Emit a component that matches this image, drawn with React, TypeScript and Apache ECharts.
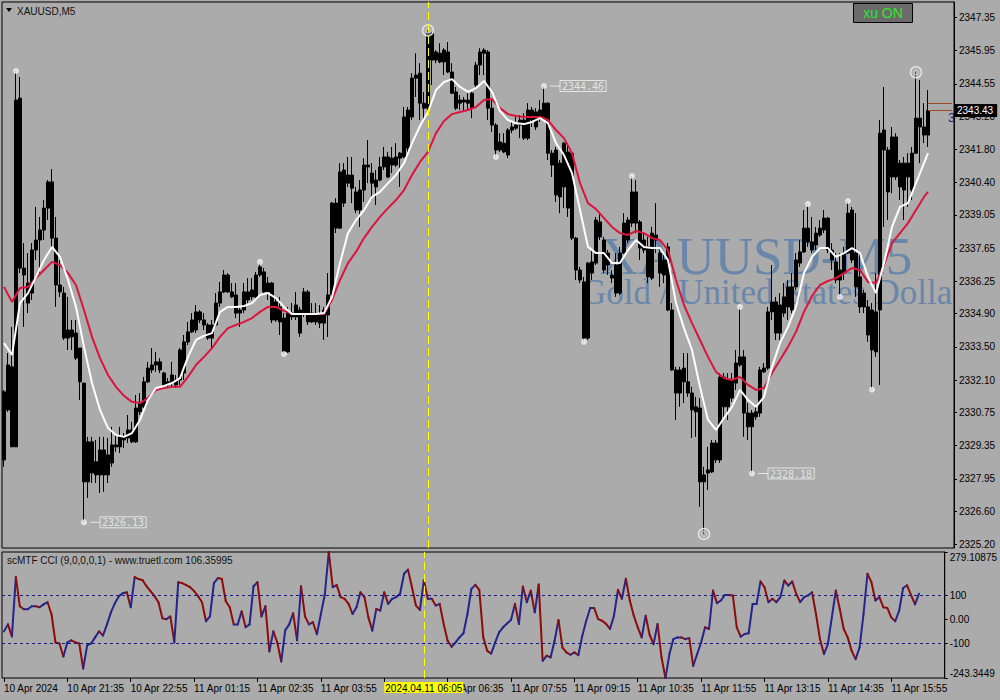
import React, { useEffect, useRef } from "react";
import * as echarts from "echarts";

// ---------- data ----------
const timeLabels = ["10 Apr 2024", "10 Apr 21:35", "10 Apr 22:55", "11 Apr 01:15", "11 Apr 02:35", "11 Apr 03:55", "11 Apr 05:15", "11 Apr 06:35", "11 Apr 07:55", "11 Apr 09:15", "11 Apr 10:35", "11 Apr 11:55", "11 Apr 13:15", "11 Apr 14:35", "11 Apr 15:55"];
const barsPerLabel = 16;
const slotCount = 238; // bars + right shift

const opens = [2328.75,2330.85,2332.66,2329.30,2343.95,2336.81,2336.18,2335.76,2337.57,2337.99,
2338.41,2339.33,2340.43,2338.07,2336.10,2335.76,2333.87,2334.21,2334.08,2333.45,
2331.98,2327.83,2329.51,2328.67,2328.12,2329.17,2328.12,2328.62,2329.38,2329.30,
2329.72,2329.67,2330.01,2329.51,2330.77,2330.98,2332.03,2332.53,2332.74,2332.87,
2332.40,2331.90,2331.98,2332.11,2332.11,2332.40,2333.71,2334.13,2334.21,2334.97,
2334.63,2334.42,2333.87,2334.42,2335.34,2335.81,2336.52,2335.81,2335.68,2334.92,
2335.05,2335.81,2335.60,2335.60,2336.52,2336.65,2335.81,2336.18,2334.63,2335.18,
2334.71,2333.29,2334.92,2334.76,2335.05,2334.92,2335.81,2334.55,2334.84,2334.50,
2334.50,2334.84,2335.68,2339.54,2338.49,2340.93,2340.38,2340.72,2340.01,2339.25,
2340.09,2341.14,2340.80,2340.51,2340.51,2341.06,2341.48,2341.14,2341.48,2341.43,
2341.48,2343.45,2343.16,2344.79,2345.00,2343.74,2343.53,2346.68,2345.55,2345.84,
2345.47,2345.89,2345.05,2344.21,2343.74,2343.87,2343.74,2343.53,2344.50,2345.34,
2345.84,2345.89,2343.53,2342.82,2341.77,2342.06,2341.56,2342.61,2342.69,2342.82,
2343.03,2342.27,2343.45,2342.74,2343.11,2343.03,2343.74,2341.64,2341.77,2339.80,
2342.06,2339.33,2341.64,2338.07,2336.73,2336.23,2333.87,2336.60,2337.02,2338.75,
2337.99,2336.94,2336.52,2335.76,2335.76,2337.44,2337.99,2338.70,2340.01,2338.75,
2337.99,2337.70,2336.39,2338.20,2337.44,2336.52,2337.70,2335.05,2332.53,2331.56,
2332.61,2332.03,2331.56,2330.77,2330.93,2327.83,2328.20,2328.25,2329.46,2328.75,
2332.23,2330.98,2332.11,2331.98,2332.74,2333.08,2330.72,2330.14,2330.77,2330.72,
2332.45,2332.61,2334.97,2335.39,2334.08,2334.92,2335.18,2336.02,2336.02,2337.02,
2337.49,2338.49,2337.91,2337.78,2338.20,2338.41,2338.91,2337.57,2337.07,2336.31,
2336.60,2337.44,2339.25,2337.44,2336.44,2335.18,2335.18,2335.05,2333.29,2335.05,
2341.77,2341.77,2340.64,2342.32,2341.22,2340.09,2341.22,2340.09,2341.64,2343.11,
2342.74,2342.40];

const closes = [2331.61,2332.74,2329.30,2343.87,2336.81,2336.52,2335.34,2337.57,2337.99,2338.41,
2339.33,2340.43,2338.07,2336.10,2335.81,2333.87,2334.21,2333.92,2333.03,2332.03,
2327.83,2329.51,2328.20,2328.12,2329.17,2328.12,2328.96,2329.38,2329.30,2329.72,
2329.59,2330.01,2329.51,2330.93,2331.14,2332.03,2332.61,2332.74,2332.87,2332.53,
2331.90,2332.03,2332.32,2331.90,2333.37,2333.71,2334.13,2334.63,2334.97,2334.63,
2334.42,2333.87,2334.42,2335.34,2335.81,2336.52,2335.81,2335.60,2334.92,2335.05,
2335.81,2335.47,2335.89,2336.52,2336.86,2335.81,2336.18,2334.63,2335.39,2334.55,
2333.29,2334.92,2334.76,2335.26,2334.08,2335.81,2334.55,2334.92,2334.55,2334.84,
2335.05,2335.68,2339.54,2338.49,2340.85,2339.54,2340.72,2340.17,2339.25,2340.09,
2341.14,2341.06,2340.38,2340.22,2341.06,2341.48,2340.64,2341.43,2341.14,2341.64,
2343.16,2341.85,2344.79,2344.92,2343.74,2343.53,2346.68,2345.55,2345.89,2345.47,
2345.97,2345.05,2344.16,2343.53,2343.87,2343.79,2343.87,2344.16,2345.34,2345.89,
2345.97,2343.53,2342.82,2341.77,2342.11,2341.69,2342.61,2342.74,2342.82,2343.03,
2342.27,2343.45,2343.03,2343.37,2343.45,2343.74,2341.64,2341.14,2339.88,2341.22,
2340.22,2341.69,2338.07,2336.73,2336.31,2333.87,2337.02,2337.07,2338.83,2338.12,
2336.73,2337.44,2336.39,2336.94,2337.44,2338.70,2338.83,2340.01,2338.70,2337.65,
2337.57,2336.44,2338.28,2337.99,2336.60,2337.15,2335.05,2332.53,2331.56,2332.53,
2332.03,2331.56,2330.85,2330.98,2327.83,2328.12,2328.33,2329.46,2328.75,2332.23,
2330.98,2332.11,2331.35,2332.82,2333.08,2330.72,2330.14,2330.72,2330.56,2332.53,
2332.61,2334.97,2335.39,2334.08,2335.26,2335.60,2336.02,2335.05,2337.15,2337.49,
2338.49,2337.91,2337.57,2338.28,2338.49,2338.91,2337.57,2337.15,2336.31,2336.73,
2337.44,2339.12,2337.15,2336.02,2335.18,2335.76,2334.00,2333.37,2334.97,2342.48,
2342.61,2340.01,2342.32,2340.64,2340.22,2341.22,2340.64,2341.64,2343.11,2342.74,
2342.40,2343.43];

const lows = [2328.46,2330.77,2329.30,2329.30,2336.60,2334.34,2334.92,2335.47,2337.15,2336.60,
2337.99,2338.83,2337.70,2335.18,2335.60,2333.79,2333.37,2333.37,2332.95,2331.27,
2326.13,2327.15,2327.78,2327.78,2327.36,2327.41,2327.78,2328.46,2329.09,2329.04,
2329.25,2329.46,2329.46,2329.46,2330.64,2330.93,2331.98,2332.40,2332.45,2332.40,
2331.82,2331.77,2331.82,2331.77,2331.90,2332.11,2333.58,2334.08,2334.08,2334.50,
2334.21,2333.79,2333.45,2334.34,2335.18,2335.76,2335.76,2335.55,2334.71,2334.34,
2334.92,2335.34,2335.47,2335.55,2336.44,2335.76,2335.47,2334.50,2334.55,2334.00,
2333.20,2333.25,2334.63,2334.63,2333.92,2334.76,2334.42,2334.50,2334.42,2334.29,
2333.79,2333.92,2335.60,2338.28,2338.45,2339.38,2340.22,2339.54,2339.12,2338.54,
2339.59,2340.38,2339.67,2339.46,2340.45,2340.93,2340.59,2340.80,2341.06,2340.22,
2341.43,2341.64,2343.03,2344.00,2343.03,2343.03,2343.45,2344.50,2345.42,2345.42,
2344.92,2345.00,2344.12,2343.45,2343.45,2343.37,2343.45,2343.11,2344.42,2344.92,
2344.92,2343.03,2342.53,2341.48,2341.69,2341.64,2341.43,2342.48,2342.61,2342.27,
2342.19,2342.19,2342.74,2342.61,2342.95,2343.00,2341.35,2340.64,2339.59,2339.12,
2339.33,2338.96,2337.99,2336.31,2336.18,2333.71,2333.79,2336.31,2336.94,2337.99,
2336.60,2336.52,2336.18,2335.60,2335.68,2337.40,2337.86,2338.54,2338.28,2337.15,
2337.44,2336.18,2336.31,2337.44,2336.02,2336.18,2335.00,2332.50,2330.43,2330.98,
2331.14,2331.40,2329.67,2329.72,2326.78,2325.64,2327.49,2328.20,2328.62,2328.62,
2330.56,2330.43,2331.19,2331.69,2332.66,2329.72,2329.59,2328.18,2330.43,2330.56,
2332.40,2332.53,2334.63,2333.79,2333.79,2334.76,2334.63,2334.92,2335.89,2336.86,
2337.44,2337.70,2337.44,2337.57,2338.12,2338.28,2337.44,2336.73,2336.18,2335.60,
2336.31,2337.40,2337.02,2335.60,2334.92,2334.92,2333.71,2331.70,2333.08,2331.90,
2338.54,2338.83,2339.96,2340.51,2339.67,2338.83,2339.38,2339.67,2341.60,2341.22,
2342.06,2341.90];

const highs = [2331.69,2333.24,2334.34,2345.09,2344.84,2337.86,2337.44,2337.86,2339.38,2338.96,
2339.67,2340.51,2340.97,2338.96,2337.15,2336.02,2335.60,2334.63,2334.63,2333.45,
2331.98,2329.72,2329.72,2329.59,2329.72,2329.72,2329.67,2330.14,2329.80,2330.14,
2329.88,2330.64,2330.35,2331.48,2331.56,2332.24,2332.87,2333.45,2333.29,2333.03,
2332.45,2332.19,2332.87,2332.32,2333.45,2334.00,2334.55,2334.92,2335.26,2335.05,
2334.92,2334.50,2334.63,2335.76,2336.23,2336.73,2336.60,2336.18,2336.18,2335.13,
2336.18,2336.39,2336.39,2336.65,2337.07,2336.81,2336.44,2336.23,2335.55,2335.60,
2334.92,2335.18,2335.34,2335.81,2335.18,2335.97,2335.89,2335.34,2335.34,2335.26,
2335.18,2336.60,2339.59,2339.75,2341.22,2341.22,2341.48,2341.48,2340.22,2340.51,
2341.43,2342.19,2341.22,2340.93,2341.48,2341.90,2341.69,2341.90,2342.06,2341.69,
2343.58,2343.58,2345.00,2345.84,2345.42,2344.21,2346.80,2346.73,2345.97,2346.26,
2346.05,2346.31,2345.42,2344.42,2344.08,2344.00,2344.16,2344.21,2345.47,2346.05,
2346.05,2345.97,2343.87,2342.90,2342.48,2342.48,2342.69,2342.95,2343.16,2343.24,
2343.32,2343.74,2343.58,2343.53,2343.87,2344.46,2343.78,2341.77,2341.90,2341.35,
2342.11,2342.06,2341.69,2338.12,2336.86,2336.44,2337.07,2337.57,2338.96,2339.17,
2338.12,2337.57,2336.73,2337.44,2337.70,2339.12,2338.96,2340.68,2340.51,2338.83,
2338.28,2338.12,2338.54,2339.54,2337.70,2337.44,2337.86,2335.34,2332.66,2332.66,
2333.24,2333.24,2331.82,2331.40,2331.35,2328.46,2329.30,2329.59,2329.59,2332.40,
2332.40,2332.40,2332.40,2333.37,2335.18,2333.37,2331.14,2330.85,2330.98,2332.66,
2332.82,2335.18,2336.94,2335.60,2335.76,2336.18,2336.31,2336.60,2337.44,2337.99,
2339.25,2339.50,2338.96,2338.54,2338.83,2339.25,2338.96,2337.86,2337.44,2337.44,
2337.70,2339.63,2339.38,2339.12,2337.44,2335.89,2335.47,2335.34,2336.60,2343.03,
2344.42,2341.90,2342.74,2342.48,2341.35,2341.48,2341.64,2341.90,2345.04,2344.71,
2343.74,2344.29];

const fastMA = [[0,2333.66],[2,2333.16],[4,2335.34],[6,2335.76],[8,2336.44],[10,2337.15],[12,2337.70],[14,2337.28],[16,2336.31],[18,2335.18],[20,2333.50],[22,2331.98],[24,2330.85],[26,2330.09],[28,2329.80],[30,2329.72],[32,2329.88],[34,2330.43],[36,2331.27],[38,2331.77],[40,2331.86],[42,2331.98],[44,2332.19],[46,2333.08],[48,2333.79],[50,2333.96],[52,2334.08],[54,2334.97],[56,2335.18],[58,2335.18],[60,2335.22],[62,2335.34],[64,2335.68],[66,2335.76],[68,2335.55],[70,2335.18],[72,2334.88],[74,2334.88],[76,2334.88],[78,2334.88],[80,2334.92],[82,2335.60],[84,2337.02],[86,2338.28],[88,2338.83],[90,2339.25],[92,2339.80],[94,2340.01],[96,2340.38],[98,2340.72],[100,2341.22],[102,2342.06],[104,2342.78],[106,2343.37],[108,2344.29],[110,2344.63],[112,2344.75],[114,2344.42],[116,2344.21],[118,2344.37],[120,2344.67],[122,2344.21],[124,2343.41],[126,2343.03],[128,2342.90],[130,2342.86],[132,2342.95],[134,2343.11],[136,2342.90],[138,2342.06],[140,2341.56],[142,2340.80],[144,2339.25],[146,2337.70],[148,2337.44],[150,2337.44],[152,2337.02],[154,2337.02],[156,2337.57],[158,2337.99],[160,2337.70],[162,2337.65],[164,2337.65],[166,2337.15],[168,2335.34],[170,2334.29],[172,2333.37],[174,2331.82],[176,2330.43],[178,2330.01],[180,2330.51],[182,2330.98],[184,2331.69],[186,2331.27],[188,2330.98],[190,2331.40],[192,2332.66],[194,2333.66],[196,2334.34],[198,2335.18],[200,2336.60],[202,2337.28],[204,2337.65],[206,2337.65],[208,2337.28],[210,2337.44],[212,2337.65],[214,2337.44],[216,2336.44],[218,2335.76],[220,2337.02],[222,2338.54],[224,2339.38],[226,2339.54],[228,2340.38],[230,2341.22],[231,2341.64]];

const slowMA = [[0,2336.02],[2,2335.39],[4,2335.97],[6,2336.02],[8,2336.39],[10,2336.73],[12,2337.07],[14,2336.94],[16,2336.60],[18,2336.10],[20,2335.05],[22,2333.92],[24,2333.03],[26,2332.32],[28,2331.82],[30,2331.44],[32,2331.19],[34,2331.14],[36,2331.35],[38,2331.69],[40,2331.77],[42,2331.82],[44,2331.82],[46,2332.24],[48,2332.74],[50,2333.08],[52,2333.45],[54,2333.92],[56,2334.29],[58,2334.42],[60,2334.55],[62,2334.71],[64,2334.97],[66,2335.18],[68,2335.18],[70,2335.01],[72,2334.88],[74,2334.88],[76,2334.88],[78,2334.88],[80,2334.88],[82,2335.47],[84,2336.31],[86,2337.02],[88,2337.49],[90,2338.07],[92,2338.54],[94,2338.96],[96,2339.33],[98,2339.67],[100,2340.09],[102,2340.72],[104,2341.27],[106,2341.69],[108,2342.48],[110,2342.99],[112,2343.28],[114,2343.37],[116,2343.45],[118,2343.58],[120,2343.87],[122,2343.91],[124,2343.53],[126,2343.28],[128,2343.20],[130,2343.16],[132,2343.16],[134,2343.16],[136,2343.03],[138,2342.61],[140,2342.27],[142,2341.64],[144,2340.38],[146,2339.54],[148,2339.29],[150,2338.91],[152,2338.54],[154,2338.28],[156,2338.20],[158,2338.37],[160,2338.28],[162,2338.07],[164,2337.99],[166,2337.57],[168,2336.31],[170,2335.26],[172,2334.50],[174,2333.79],[176,2333.08],[178,2332.45],[180,2332.19],[182,2332.11],[184,2332.24],[186,2331.90],[188,2331.69],[190,2331.77],[192,2332.40],[194,2332.95],[196,2333.50],[198,2334.13],[200,2334.97],[202,2335.64],[204,2336.10],[206,2336.27],[208,2336.39],[210,2336.60],[212,2336.81],[214,2336.73],[216,2336.23],[218,2336.18],[220,2336.94],[222,2337.86],[224,2338.28],[226,2338.70],[228,2339.25],[230,2339.80],[231,2340.01]];

const cci = [-50,-21,-71,175,54,42,42,54,54,50,
62,71,21,-96,-100,-154,-96,-87,-96,-100,
-204,-108,-100,-75,-50,-67,-21,29,67,96,
108,112,50,175,167,162,137,117,96,71,
4,0,12,-96,154,150,142,133,117,96,
71,-8,12,150,171,167,75,50,-21,-21,
33,-33,-21,137,154,12,54,-133,-50,-96,
-175,-46,-21,25,-87,137,12,-21,-12,-62,
21,104,279.11,133,142,92,85,64,22,50,
112,92,8,-47,43,36,112,64,85,92,
106,189,206,133,57,39,161,85,85,57,
64,-19,-89,-114,-96,-75,-58,22,126,143,
122,-75,-131,-142,-96,-54,-33,-17,-3,64,
-19,136,71,119,29,144,-172,-151,-158,-89,
-3,-117,-137,-147,-137,-149,-68,-6,47,47,
1,-6,-19,-40,15,122,85,168,78,15,
-33,-75,15,-64,-103,-19,-158,-243.34,-144,-82,
-75,-75,-82,-78,-193,-144,-96,-33,-40,119,
67,78,101,101,99,-33,-72,-61,-58,64,
64,157,133,71,85,71,92,161,140,157,
106,71,92,99,112,22,-82,-144,-103,8,
119,43,-40,-75,-131,-165,-117,22,189,154,
78,92,50,47,8,-8,36,130,141,100,
62,106.36];

const priceTicks = [2325.20, 2326.60, 2327.95, 2329.35, 2330.75, 2332.10, 2333.50, 2334.90, 2336.25, 2337.65, 2339.05, 2340.40, 2341.80, 2343.20, 2344.55, 2345.95, 2347.35];
const priceMin = 2325.05;
const priceMax = 2347.99;
const cciTicks = [-243.3449, -100, 0, 100, 279.10875];
const cciTickLabels = ["-243.3449", "-100", "0.00", "100", "279.10875"];
const cciLevels = [100, -100];

const highDots = [3, 64, 135, 157, 184, 201, 211];
const lowDots = [20, 70, 123, 145, 187, 209, 217];
const ringHighs = [106, 228];
const ringLows = [175];
const labelledDots = [20, 135, 187];

const cursorBar = 106;
const cursorLabel = "2024.04.11 06:05";
const bidPrice = 2343.43;
const askPrice = 2343.73;
const symbolTitle = "XAUUSD,M5";
const cciTitle = "scMTF CCI (9,0,0,0,1) - www.truetl.com 106.35995";

// ---------- styles ----------
const BG = "#ababab";
const CCI_UP = "#24248c";
const CCI_DOWN = "#8c0c0c";
const WM = "#6a87a9";
const FONT = "Liberation Sans";

export default function App() {
  const ref = useRef<HTMLDivElement>(null);

  useEffect(() => {
    const chart = echarts.init(ref.current!, null, { renderer: "svg" });
    const cats = Array.from({ length: slotCount }, (_, i) => String(i));
    const candles = opens.map((o, i) => [o, closes[i], lows[i], highs[i]]);
    const showLabel = (i: number) => i % barsPerLabel === 0 && i / barsPerLabel < timeLabels.length;
    const lastIdx = cci.length - 1;

    const dotItem = (i: number, v: number) => {
      const item: any = { value: [i, v] };
      if (labelledDots.includes(i)) {
        item.label = {
          show: true,
          position: "right",
          distance: 3,
          formatter: (p: any) => `{ln|}{bx|${p.value[1].toFixed(2)}}`,
          rich: {
            ln: { width: 10, height: 1, backgroundColor: "#f2f2f2", verticalAlign: "middle" },
            bx: { borderColor: "#f2f2f2", borderWidth: 1, padding: [1, 2, 0, 2], color: "#f4f4f4", fontFamily: "DejaVu Sans Mono", fontSize: 10, verticalAlign: "middle" },
          },
        };
      }
      return item;
    };

    const option: any = {
      animation: false,
      backgroundColor: BG,
      textStyle: { fontFamily: FONT },
      grid: [
        { left: 2, right: 46, top: 2, height: 546, show: true, borderColor: "#000", borderWidth: 1, backgroundColor: "transparent" },
        { left: 2, right: 46, top: 552, height: 126, show: true, borderColor: "#000", borderWidth: 1, backgroundColor: "transparent" },
      ],
      xAxis: [
        { type: "category", gridIndex: 0, data: cats, position: "bottom", axisLine: { show: false, onZero: false }, axisTick: { show: false }, axisLabel: { show: false }, splitLine: { show: false } },
        {
          type: "category", gridIndex: 1, data: cats, position: "bottom", axisLine: { show: false, onZero: false },
          axisTick: { show: true, alignWithLabel: true, interval: (i: number) => showLabel(i), length: 4, lineStyle: { color: "#000" } },
          axisLabel: { interval: (i: number) => showLabel(i), formatter: (_v: string, i: number) => timeLabels[i / barsPerLabel] ?? "", align: "left", color: "#000", fontSize: 10, margin: 5, fontFamily: FONT },
          splitLine: { show: false },
        },
      ],
      yAxis: [
        {
          type: "value", gridIndex: 0, position: "right", min: priceMin, max: priceMax,
          axisLine: { show: true, onZero: false, lineStyle: { color: "#000" } },
          axisTick: { show: true, customValues: priceTicks, length: 3, lineStyle: { color: "#000" } },
          axisLabel: { customValues: priceTicks, formatter: (v: number) => v.toFixed(2), color: "#000", fontSize: 10, margin: 5, fontFamily: FONT },
          splitLine: { show: false },
        },
        {
          type: "value", gridIndex: 1, position: "right", min: cciTicks[0], max: cciTicks[cciTicks.length - 1],
          axisLine: { show: true, onZero: false, lineStyle: { color: "#000" } },
          axisTick: { show: true, customValues: cciTicks, length: 3, lineStyle: { color: "#000" } },
          axisLabel: {
            customValues: cciTicks, color: "#000", fontSize: 10, margin: 5, fontFamily: FONT,
            formatter: (v: number) => {
              const k = cciTicks.findIndex((t) => Math.abs(t - v) < 1e-6);
              const t = k >= 0 ? cciTickLabels[k] : "";
              if (k === cciTicks.length - 1) return `{top|${t}}`;
              if (k === 0) return `{bot|${t}}`;
              return t;
            },
            rich: {
              top: { padding: [10, 0, 0, 0], fontSize: 10, color: "#000", fontFamily: FONT },
              bot: { padding: [0, 0, 10, 0], fontSize: 10, color: "#000", fontFamily: FONT },
            },
          },
          splitLine: { show: false },
        },
      ],
      series: [
        {
          type: "candlestick", xAxisIndex: 0, yAxisIndex: 0, data: candles, barWidth: 3, silent: true,
          itemStyle: { color: "#000", color0: "#000", borderColor: "#000", borderColor0: "#000", borderWidth: 1 },
          markLine: {
            silent: true, symbol: "none", animation: false,
            data: [
              { xAxis: String(cursorBar), lineStyle: { color: "#ffff00", type: [8, 4], width: 1 }, label: { show: false } },
              [
                { coord: [String(lastIdx), bidPrice], lineStyle: { color: "#9c4a1e", type: "solid", width: 1 },
                  label: { show: true, position: "end", distance: 2, formatter: bidPrice.toFixed(2), backgroundColor: "#000", color: "#fff", padding: [2, 4, 1, 3], fontSize: 10, fontFamily: FONT } },
                { coord: [String(slotCount - 1), bidPrice] },
              ],
              [
                { coord: [String(lastIdx), askPrice], lineStyle: { color: "#9c4a1e", type: "solid", width: 1 }, label: { show: false } },
                { coord: [String(slotCount - 1), askPrice] },
              ],
            ],
          },
        },
        { type: "line", xAxisIndex: 0, yAxisIndex: 0, data: slowMA, showSymbol: false, silent: true, z: 3, lineStyle: { color: "#dc143c", width: 2 } },
        { type: "line", xAxisIndex: 0, yAxisIndex: 0, data: fastMA, showSymbol: false, silent: true, z: 3, lineStyle: { color: "#ffffff", width: 2 } },
        {
          type: "scatter", xAxisIndex: 0, yAxisIndex: 0, silent: true, z: 4, symbol: "circle", symbolSize: 6,
          itemStyle: { color: "#f2f2f2" },
          data: [...highDots.map((i) => dotItem(i, highs[i])), ...lowDots.map((i) => dotItem(i, lows[i]))],
        },
        {
          type: "scatter", xAxisIndex: 0, yAxisIndex: 0, silent: true, z: 4, symbol: "circle", symbolSize: 11,
          itemStyle: { color: "rgba(171,171,171,0.6)", borderColor: "#f2f2f2", borderWidth: 1.5 },
          data: [...ringHighs.map((i) => [i, highs[i]]), ...ringLows.map((i) => [i, lows[i]])],
        },
        {
          type: "scatter", xAxisIndex: 0, yAxisIndex: 0, silent: true, z: 5, symbol: "circle", symbolSize: 5,
          itemStyle: { color: "transparent", borderColor: "#dedede", borderWidth: 1 },
          data: [...ringHighs.map((i) => [i, highs[i]]), ...ringLows.map((i) => [i, lows[i]])],
        },
        // CCI: one segment per bar, blue when rising, dark red when falling
        {
          type: "custom", xAxisIndex: 1, yAxisIndex: 1, silent: true, z: 3,
          data: cci.map((v, i) => [i, v, i < lastIdx ? cci[i + 1] : v]),
          encode: { x: 0, y: 1 },
          renderItem: (_params: any, api: any) => {
            const i = api.value(0);
            if (i >= lastIdx) return null;
            const v0 = api.value(1);
            const v1 = api.value(2);
            const a = api.coord([i, v0]);
            const b = api.coord([i + 1, v1]);
            return {
              type: "line",
              shape: { x1: a[0], y1: a[1], x2: b[0], y2: b[1] },
              style: { stroke: v1 >= v0 ? CCI_UP : CCI_DOWN, lineWidth: 2, lineCap: "round" },
            };
          },
        },
        // carrier for CCI levels and the cursor line
        {
          type: "line", xAxisIndex: 1, yAxisIndex: 1, data: [], silent: true, showSymbol: false,
          markLine: {
            silent: true, symbol: "none", animation: false,
            data: [
              ...cciLevels.map((lv) => ({ yAxis: lv, lineStyle: { color: "#1a1a80", type: [3, 3], width: 1 }, label: { show: false } })),
              { xAxis: String(cursorBar), lineStyle: { color: "#ffff00", type: [8, 4], width: 1 },
                label: { show: true, position: "start", distance: 4, formatter: cursorLabel, backgroundColor: "#ffff00", color: "#000", padding: [1, 1, 0, 1], fontSize: 10, fontFamily: FONT } },
            ],
          },
        },
      ],
      graphic: [
        { type: "text", z: -3, silent: true, style: { text: "XAUUSD-M5", x: 600, y: 256, fill: WM, font: '53px "Liberation Serif"', verticalAlign: "middle" } },
        { type: "text", z: -3, silent: true, style: { text: "Gold / United States Dollar", x: 581, y: 292, fill: WM, font: '35px "Liberation Serif"', verticalAlign: "middle" } },
        { type: "text", z: -2, silent: true, style: { text: "3", x: 948, y: 117, fill: "#22228a", font: '13px "Liberation Sans"', verticalAlign: "middle" } },
        { type: "rect", z: -1, silent: true, shape: { x: 955, y: 3, width: 45, height: 545 }, style: { fill: BG } },
        { type: "polygon", z: 10, silent: true, shape: { points: [[6, 8], [12, 8], [9, 12]] }, style: { fill: "#000" } },
        { type: "text", z: 10, silent: true, style: { text: symbolTitle, x: 17, y: 11, fill: "#111", font: `10px "${FONT}"`, verticalAlign: "middle" } },
        { type: "text", z: 10, silent: true, style: { text: cciTitle, x: 7, y: 560, fill: "#111", font: `10px "${FONT}"`, verticalAlign: "middle" } },
        { type: "rect", z: 10, silent: true, shape: { x: 853.5, y: 3.5, width: 59, height: 19 }, style: { fill: "#6b6b6b", stroke: "#000", lineWidth: 1 } },
        { type: "text", z: 11, silent: true, style: { text: "xu ON", x: 883, y: 13, fill: "#2ee62e", font: `14px "${FONT}"`, align: "center", verticalAlign: "middle" } },
      ],
    };

    chart.setOption(option);
    return () => chart.dispose();
  }, []);

  return <div ref={ref} style={{ position: "fixed", left: 0, top: 0, width: 1000, height: 700 }} />;
}
